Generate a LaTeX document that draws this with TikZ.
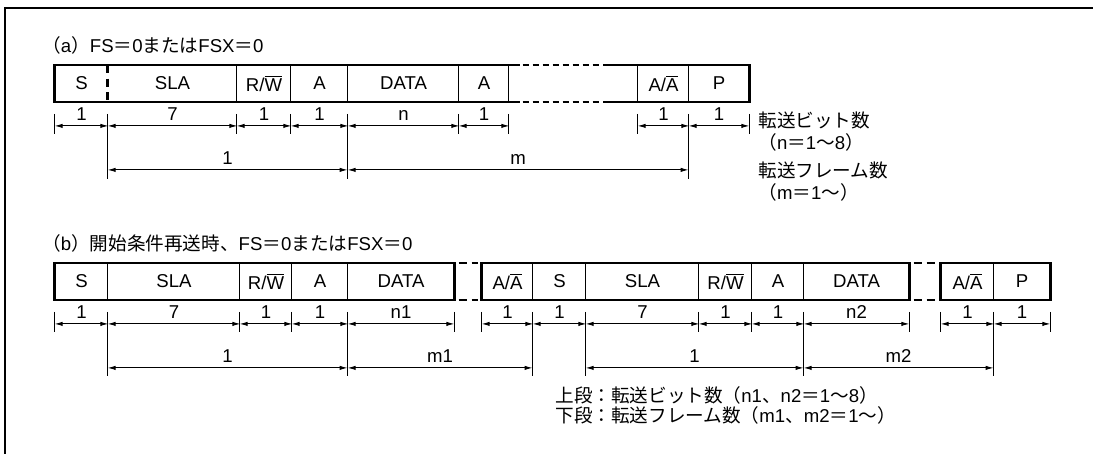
\documentclass[tikz,border=0pt]{standalone}
\usepackage{fontspec}
\setmainfont{Liberation Sans}
\newfontfamily\jp{Noto Sans CJK JP}
\usetikzlibrary{arrows.meta}

\newcommand\rwbar{R/$\overline{\hbox{W}}$}
\newcommand\aabar{A/$\overline{\hbox{A}}$}

\tikzset{
  campo/.style={minimum height=18pt, inner sep=0pt},
  sottile/.style={line width=0.5pt},
  bordo/.style={line width=1.3pt},
  tratto/.style={dash pattern=on 3pt off 2pt},
  quota/.style={line width=0.5pt, {Latex[length=4pt,width=2.2pt]}-{Latex[length=4pt,width=2.2pt]}},
  etichetta/.style={anchor=south, inner sep=0pt, yshift=2.5pt},
  titolo/.style={anchor=west, inner sep=0pt},
}

\begin{document}
\begin{tikzpicture}[x=0.5pt, y=-0.5pt, font=\fontsize{9.3pt}{11pt}\selectfont]
\clip (0,0) rectangle (1093,454);
% cornice esterna (tagliata a destra e in basso)
\draw[bordo] (1100,8) -- (5,8) -- (5,460);

% ---- (a) ----
\node[titolo] (ta) at (42,45) {{\jp （}a{\jp ）}FS{\jp ＝}0{\jp または}FSX{\jp ＝}0};
% campi: inizio / fine / nome / testo
\foreach \x/\y/\n/\t in {55/108/s/S, 108/237/sla/SLA, 237/291/rw/\rwbar, 291/348/a/A,
    348/459/data/DATA, 459/509/ack/A, 509/638/gap/{}, 638/689/aa/\aabar, 689/749/p/P}{
  \pgfmathsetmacro\w{(\y-\x)/2}
  \node[campo, minimum width=\w pt] (a-\n) at ({(\x+\y)/2},83.5) {\t};
}
\foreach \n in {rw,a,data,ack,gap,aa,p}
  \draw[sottile] (a-\n.north west) -- (a-\n.south west);
\draw[bordo, dash pattern=on 4pt off 2.8pt] (a-sla.north west) -- (a-sla.south west);
\draw[bordo] ([xshift=5.5pt]a-gap.north west) -- (a-s.north west) -- (a-s.south west) -- ([xshift=5.5pt]a-gap.south west);
\draw[bordo] ([xshift=-17.5pt]a-gap.north east) -- (a-p.north east) -- (a-p.south east) -- ([xshift=-17.5pt]a-gap.south east);
\draw[bordo, tratto] ([xshift=7pt]a-gap.north west) -- ([xshift=-18pt]a-gap.north east);
\draw[bordo, tratto] ([xshift=7pt]a-gap.south west) -- ([xshift=-18pt]a-gap.south east);

% quote (bit)
\foreach \n/\k in {s/west, rw/west, a/west, ack/west, gap/west, aa/west, p/east}
  \draw[sottile] ([yshift=-6pt]a-\n.south \k) -- ([yshift=-16pt]a-\n.south \k);
\foreach \n in {sla, data, p}
  \draw[sottile] ([yshift=-6pt]a-\n.south west) -- ([yshift=-38.5pt]a-\n.south west);
\foreach \n/\t in {s/1, sla/7, rw/1, a/1, data/n, ack/1, aa/1, p/1}
  \draw[quota] ([yshift=-12pt]a-\n.south west) -- node[etichetta] {\t} ([yshift=-12pt]a-\n.south east);
% quote (frame)
\draw[quota] ([yshift=-34pt]a-sla.south west) -- node[etichetta] {1} ([yshift=-34pt]a-data.south west);
\draw[quota] ([yshift=-34pt]a-data.south west) -- node[etichetta] {m} ([yshift=-34pt]a-p.south west);

\node[titolo] (na1) at (758,120) {\jp 転送ビット数};
\node[titolo] (na2) at (758,142) {{\jp （}n{\jp ＝}1{\jp ～}8{\jp ）}};
\node[titolo] (na3) at (758,170) {\jp 転送フレーム数};
\node[titolo] (na4) at (758,192) {{\jp （}m{\jp ＝}1{\jp ～）}};

% ---- (b) ----
\node[titolo] (tb) at (42,243) {{\jp （}b{\jp ）開始条件再送時、}FS{\jp ＝}0{\jp または}FSX{\jp ＝}0};
\foreach \x/\y/\n/\t in {55/108/s/S, 108/240/sla/SLA, 240/292/rw/\rwbar, 292/348/a/A, 348/454/data/DATA,
    454/482/gapu/{}, 482/533/aa/\aabar, 533/586/ss/S, 586/699/slas/SLA, 699/752/rws/\rwbar,
    752/804/as/A, 804/909/datas/DATA, 909/941/gapd/{}, 941/994/aas/\aabar, 994/1050/p/P}{
  \pgfmathsetmacro\w{(\y-\x)/2}
  \node[campo, minimum width=\w pt] (b-\n) at ({(\x+\y)/2},281.5) {\t};
}
\foreach \n in {sla,rw,a,data,ss,slas,rws,as,datas,p}
  \draw[sottile] (b-\n.north west) -- (b-\n.south west);
\draw[bordo] (b-s.north west) rectangle (b-data.south east);
\draw[bordo] (b-aa.north west) rectangle (b-datas.south east);
\draw[bordo] (b-aas.north west) rectangle (b-p.south east);
\foreach \g in {gapu, gapd}{
  \draw[bordo, dash pattern=on 4pt off 2.5pt] ([xshift=2.5pt]b-\g.north west) -- ([xshift=-2pt]b-\g.north east);
  \draw[bordo, dash pattern=on 4pt off 2.5pt] ([xshift=2.5pt]b-\g.south west) -- ([xshift=-2pt]b-\g.south east);
}

% quote (bit)
\foreach \n/\k in {s/west, rw/west, a/west, data/east, aa/west, rws/west, as/west, datas/east, aas/west, p/east}
  \draw[sottile] ([yshift=-6pt]b-\n.south \k) -- ([yshift=-16pt]b-\n.south \k);
\foreach \n in {sla, data, ss, slas, datas, p}
  \draw[sottile] ([yshift=-6pt]b-\n.south west) -- ([yshift=-38pt]b-\n.south west);
\foreach \n/\t in {s/1, sla/7, rw/1, a/1, data/n1, aa/1, ss/1, slas/7, rws/1, as/1, datas/n2, aas/1, p/1}
  \draw[quota] ([yshift=-12pt]b-\n.south west) -- node[etichetta] {\t} ([yshift=-12pt]b-\n.south east);
% quote (frame)
\draw[quota] ([yshift=-34pt]b-sla.south west) -- node[etichetta] {1} ([yshift=-34pt]b-data.south west);
\draw[quota] ([yshift=-34pt]b-data.south west) -- node[etichetta] {m1} ([yshift=-34pt]b-ss.south west);
\draw[quota] ([yshift=-34pt]b-slas.south west) -- node[etichetta] {1} ([yshift=-34pt]b-datas.south west);
\draw[quota] ([yshift=-34pt]b-datas.south west) -- node[etichetta] {m2} ([yshift=-34pt]b-p.south west);

\node[titolo] (nb1) at (555,395) {{\jp 上段：転送ビット数（}n1{\jp 、}n2{\jp ＝}1{\jp ～}8{\jp ）}};
\node[titolo] (nb2) at (555,415) {{\jp 下段：転送フレーム数（}m1{\jp 、}m2{\jp ＝}1{\jp ～）}};
\end{tikzpicture}
\end{document}
